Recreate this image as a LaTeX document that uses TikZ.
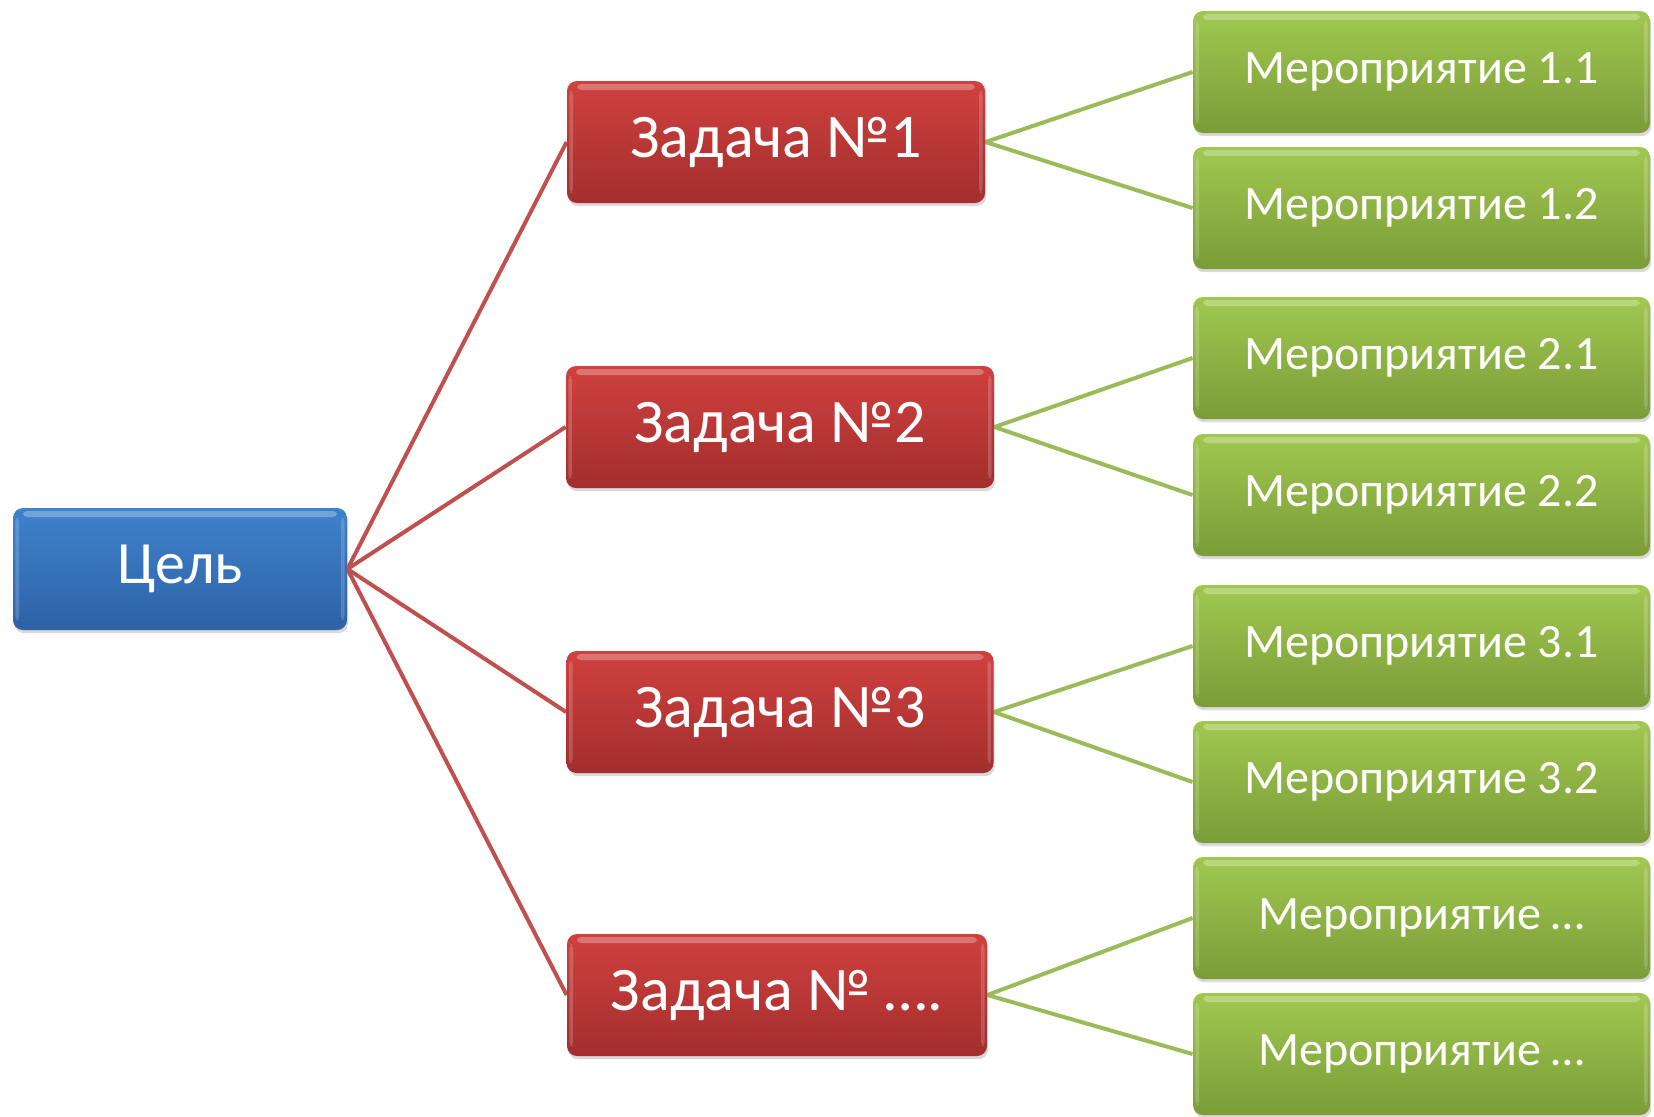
\documentclass[tikz,border=0pt]{standalone}
\usepackage{fontspec}
\setmainfont{Carlito}
\usetikzlibrary{shadows,backgrounds}
\definecolor{blueT}{HTML}{3F82CC}
\definecolor{blueB}{HTML}{2E62A6}
\definecolor{redT}{HTML}{D0413F}
\definecolor{redB}{HTML}{A22E2D}
\definecolor{greenT}{HTML}{A0C850}
\definecolor{greenB}{HTML}{7B9C38}
\definecolor{redLine}{HTML}{C0504D}
\definecolor{greenLine}{HTML}{9BBB59}
\tikzset{
  box/.style={rounded corners=5pt, inner sep=0pt, align=center, text=white,
    drop shadow={opacity=0.3, shadow xshift=0.6pt, shadow yshift=-1.6pt},
    path picture={
      \fill[white,opacity=0.28,rounded corners=2pt]
        ([xshift=5pt,yshift=-1.5pt]path picture bounding box.north west) rectangle
        ([xshift=-5pt,yshift=-4.5pt]path picture bounding box.north east);
      \fill[white,opacity=0.18,rounded corners=2pt]
        ([xshift=1.2pt,yshift=-5pt]path picture bounding box.north west) rectangle
        ([xshift=3pt,yshift=5pt]path picture bounding box.south west);
      \fill[white,opacity=0.18,rounded corners=2pt]
        ([xshift=-1.2pt,yshift=-5pt]path picture bounding box.north east) rectangle
        ([xshift=-3pt,yshift=5pt]path picture bounding box.south east);
    }},
  goal/.style={box, top color=blueT, bottom color=blueB, minimum width=167pt, minimum height=61pt,
    font=\fontsize{30}{33}\selectfont},
  task/.style={box, top color=redT, bottom color=redB, minimum height=61pt,
    font=\fontsize{31}{34}\selectfont},
  act/.style={box, top color=greenT, bottom color=greenB, minimum width=228.5pt, minimum height=61pt,
    font=\fontsize{24}{27}\selectfont},
  redlink/.style={draw=redLine, line width=2pt},
  greenlink/.style={draw=greenLine, line width=2pt},
}
\begin{document}
\begin{tikzpicture}[x=0.5pt,y=-0.5pt]
\useasboundingbox (0,0) rectangle (1654,1116);
\node[goal] (goal) at (180,569) {Цель};
\node[task, minimum width=209pt] (t1) at (776,142) {Задача №1};
\node[task, minimum width=214pt] (t2) at (780,427) {Задача №2};
\node[task, minimum width=213.5pt] (t3) at (780,712) {Задача №3};
\node[task, minimum width=210pt] (t4) at (777,995) {Задача № ….};
\node[act] (a11) at (1421.5,72) {Мероприятие 1.1};
\node[act] (a12) at (1421.5,208) {Мероприятие 1.2};
\node[act] (a21) at (1421.5,358) {Мероприятие 2.1};
\node[act] (a22) at (1421.5,495) {Мероприятие 2.2};
\node[act] (a31) at (1421.5,646) {Мероприятие 3.1};
\node[act] (a32) at (1421.5,782) {Мероприятие 3.2};
\node[act] (a41) at (1421.5,918) {Мероприятие …};
\node[act] (a42) at (1421.5,1054) {Мероприятие …};
\begin{scope}[on background layer]
\draw[redlink] (goal.east) -- (t1.west);
\draw[redlink] (goal.east) -- (t2.west);
\draw[redlink] (goal.east) -- (t3.west);
\draw[redlink] (goal.east) -- (t4.west);
\draw[greenlink] (t1.east) -- (a11.west);
\draw[greenlink] (t1.east) -- (a12.west);
\draw[greenlink] (t2.east) -- (a21.west);
\draw[greenlink] (t2.east) -- (a22.west);
\draw[greenlink] (t3.east) -- (a31.west);
\draw[greenlink] (t3.east) -- (a32.west);
\draw[greenlink] (t4.east) -- (a41.west);
\draw[greenlink] (t4.east) -- (a42.west);
\end{scope}
\end{tikzpicture}
\end{document}
